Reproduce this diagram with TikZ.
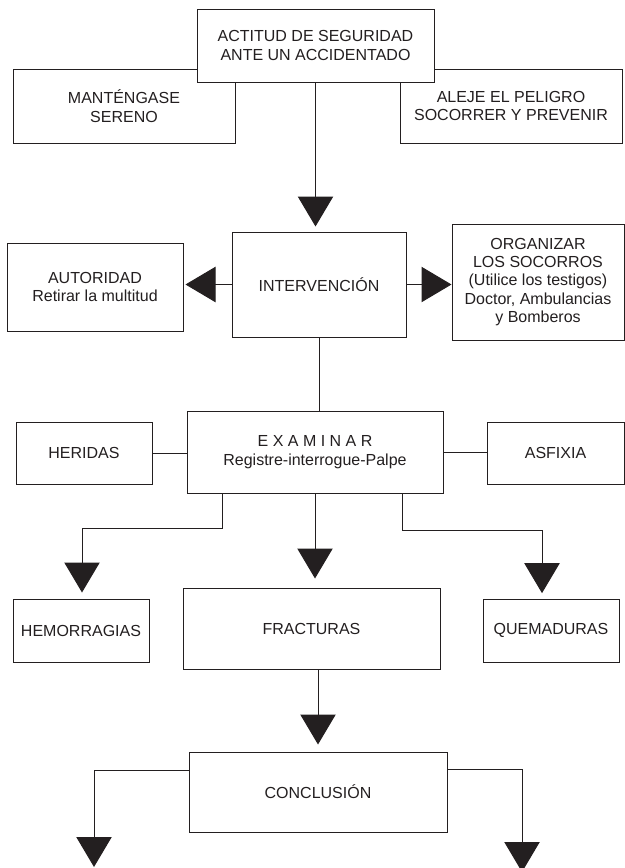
\documentclass[tikz,border=0pt]{standalone}
\usepackage{fontspec}
\setmainfont{Liberation Sans}
\usetikzlibrary{arrows.meta}
\definecolor{ink}{HTML}{231F20}
\tikzset{
  fnode/.style 2 args={draw=ink,fill=white,text=ink,line width=0.75pt,
    align=center,inner sep=0pt,minimum width=#1*0.75pt,minimum height=#2*0.75pt,
    font=\fontsize{12}{13.8}\selectfont},
  fedge/.style={-{Triangle[length=22.5pt,width=26.5pt]},line width=0.75pt,draw=ink},
  ledge/.style={line width=0.75pt,draw=ink},
}
\begin{document}
\begin{tikzpicture}[x=0.75pt,y=-0.75pt]
  \useasboundingbox (0,0) rectangle (625,868);

  % first row
  \node[fnode={222}{74}] (mant) at (124,106) {MANTÉNGASE\\SERENO};
  \node[fnode={222}{74}] (alej) at (511,106) {ALEJE EL PELIGRO\\SOCORRER Y PREVENIR};
  \node[fnode={237}{73}] (top) at (315.5,45.5) {ACTITUD DE SEGURIDAD\\ANTE UN ACCIDENTADO};

  % second row
  \node[fnode={174}{105}] (inter) at (319,284.5) {INTERVENCIÓN};
  \node[fnode={176}{88}] (auto) at (95,287) {AUTORIDAD\\Retirar la multitud};
  \node[fnode={172}{116}] (org) at (538,282) {ORGANIZAR\\LOS SOCORROS\\(Utilice los testigos)\\Doctor, Ambulancias\\y Bomberos};

  % third row
  \node[fnode={256}{82}] (exam) at (315,452) {E X A M I N A R\\Registre-interrogue-Palpe};
  \node[fnode={136}{62}] (her) at (84,453) {HERIDAS};
  \node[fnode={137}{62}] (asf) at (555.5,453) {ASFIXIA};

  % fourth row
  \node[fnode={136}{63}] (hem) at (81,630.5) {HEMORRAGIAS};
  \node[fnode={257}{81}] (frac) at (311.5,628.5) {FRACTURAS};
  \node[fnode={136}{63}] (quem) at (551,630.5) {QUEMADURAS};

  \node[fnode={258}{80}] (conc) at (318,792) {CONCLUSIÓN};

  % bends
  \coordinate (hemBend) at (222,528);
  \coordinate (hemIn) at (82,528);
  \coordinate (quemBend) at (402,530);
  \coordinate (quemIn) at (542,530);
  \coordinate (conL) at (94,770);
  \coordinate (conLEnd) at (94,867);
  \coordinate (conR) at (522,769);
  \coordinate (conREnd) at (522,872);

  \draw[fedge,shorten >=3.75pt] (top.south) -- (top.south |- inter.north);
  \draw[fedge,shorten >=1.5pt] (inter.west) -- (inter.west -| auto.east);
  \draw[fedge] (inter.east) -- (inter.east -| org.west);
  \draw[ledge] (inter.south) -- (inter.south |- exam.north);
  \draw[ledge] (her.east) -- (her.east -| exam.west);
  \draw[ledge] (exam.east) -- (exam.east -| asf.west);
  \draw[fedge,shorten >=4.5pt] (exam.south -| hemBend) -- (hemBend) -- (hemIn) -- (hemIn |- hem.north);
  \draw[fedge,shorten >=6.75pt] (exam.south) -- (exam.south |- frac.north);
  \draw[fedge,shorten >=4pt] (exam.south -| quemBend) -- (quemBend) -- (quemIn) -- (quemIn |- quem.north);
  \draw[fedge,shorten >=5.25pt] (conc.north |- frac.south) -- (conc.north);
  \draw[fedge] (conc.west |- conL) -- (conL) -- (conLEnd);
  \draw[fedge] (conc.east |- conR) -- (conR) -- (conREnd);
\end{tikzpicture}
\end{document}
